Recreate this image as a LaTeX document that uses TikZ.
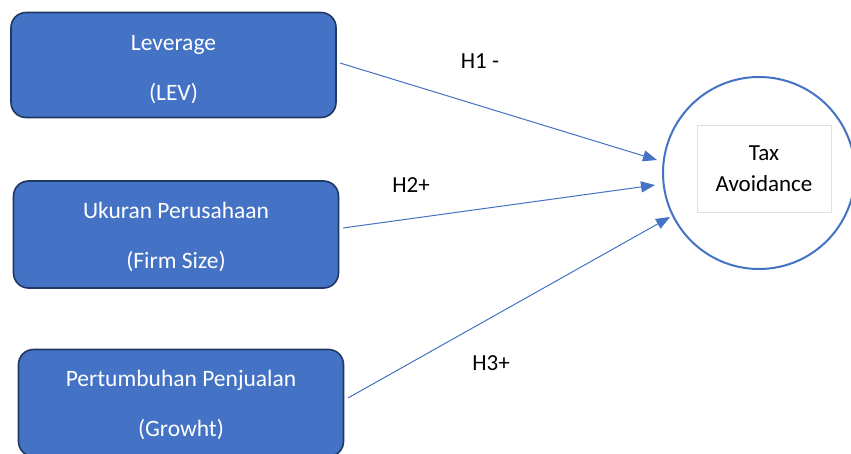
\documentclass[tikz,border=0pt]{standalone}
\usepackage{fontspec}
\setmainfont{Carlito}
\usetikzlibrary{arrows.meta}
\definecolor{boxblue}{HTML}{4472C4}
\definecolor{boxedge}{HTML}{203864}
\definecolor{lineblue}{HTML}{4472C4}
\definecolor{rectgray}{HTML}{E0E0E0}
\newcommand{\lowr}[2]{\raisebox{-#1pt}[\height][\depth]{#2}}
\tikzset{
  varbox/.style={draw=boxedge, line width=1.6pt, fill=boxblue, rounded corners=15pt,
    minimum width=325pt, minimum height=105pt, text=white, align=center,
    font=\fontsize{23.5}{50}\selectfont, inner sep=0pt},
  hyparrow/.style={draw=lineblue, line width=1pt, -{Triangle[length=14pt,width=11pt]}},
  hyplabel/.style={font=\fontsize{23}{25}\selectfont, inner sep=0pt},
}
\begin{document}
\begin{tikzpicture}[x=1pt,y=-1pt]
\useasboundingbox (0,0) rectangle (851,454);
\clip (0,0) rectangle (851,454);
\fill[white] (0,0) rectangle (851,454);
\node[varbox] (lev) at (173.5,65) {\lowr{5}{Leverage}\\\lowr{5}{(LEV)}};
\node[varbox, minimum height=107pt] (size) at (176,234.5) {\lowr{2}{Ukuran Perusahaan}\\\lowr{2}{(Firm Size)}};
\node[varbox, minimum height=107pt] (grow) at (181,403) {\lowr{2}{Pertumbuhan Penjualan}\\\lowr{2}{(Growht)}};
\node[circle, draw=lineblue, line width=2pt, fill=white, minimum size=192pt, inner sep=0pt] (tax) at (759,173) {};
\node[draw=rectgray, line width=0.8pt, minimum width=134pt, minimum height=87pt, align=center,
  font=\fontsize{23}{31}\selectfont, inner sep=0pt] (taxbox) at (764,168.5) {Tax\\Avoidance};
\coordinate (s1) at (340,63);
\coordinate (e1) at (657,160);
\coordinate (s2) at (343,228);
\coordinate (e2) at (655,185);
\coordinate (s3) at (348,398);
\coordinate (e3) at (670,217);
\draw[hyparrow] (s1) -- (e1);
\draw[hyparrow] (s2) -- (e2);
\draw[hyparrow] (s3) -- (e3);
\node[hyplabel] (h1) at (480,61) {H1 -};
\node[hyplabel] (h2) at (411,185) {H2+};
\node[hyplabel] (h3) at (491,363) {H3+};
\end{tikzpicture}
\end{document}
